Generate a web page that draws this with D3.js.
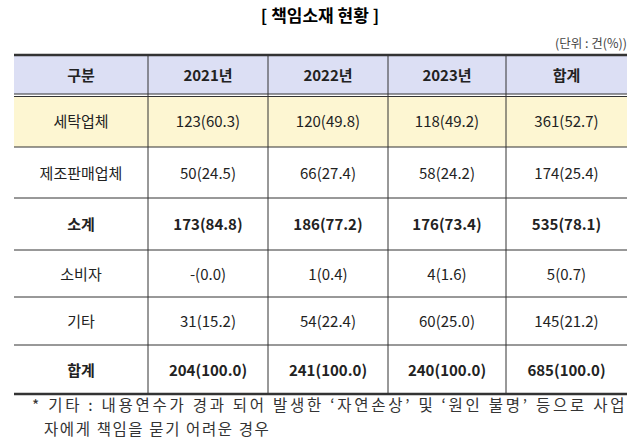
<!DOCTYPE html><html><head><meta charset="utf-8"><script src="https://cdn.jsdelivr.net/npm/d3@7"></script>
<style>body{margin:0;background:#fff}</style></head><body><script>
const headers=["구분","2021년","2022년","2023년","합계"];
const categories=["세탁업체","제조판매업체","소계","소비자","기타","합계"];
const counts=[[123,120,118,361],[50,66,58,174],[173,186,176,535],[null,1,4,5],[31,54,60,145],[204,241,240,685]];
const pcts=[[60.3,49.8,49.2,52.7],[24.5,27.4,24.2,25.4],[84.8,77.2,73.4,78.1],[0.0,0.4,1.6,0.7],[15.2,22.4,25.0,21.2],[100.0,100.0,100.0,100.0]];
const boldRows=["소계","합계"];
const colEdges=[14,148,268,388,506,627];
const rowEdges=[55,94,147,198,250,297,345,394];
const F="'Noto Sans CJK KR','Noto Sans',sans-serif";
const svg=d3.select("body").append("svg").attr("width",640).attr("height",443);
svg.append("text").attr("x",320).attr("y",22).attr("text-anchor","middle").attr("font-family",F).attr("font-weight","bold").attr("font-size",17).text("[ 책임소재 현황 ]");
svg.append("text").attr("x",627).attr("y",48).attr("text-anchor","end").attr("font-family",F).attr("font-size",12.5).attr("fill","#444").text("(단위 : 건(%))");
svg.append("rect").attr("x",14).attr("y",55).attr("width",613).attr("height",39).attr("fill","#dcdff4");
svg.append("rect").attr("x",14).attr("y",96).attr("width",613).attr("height",51).attr("fill","#fdf6d2");
const rows=[headers].concat(categories.map((c,i)=>[c].concat(counts[i].map((v,j)=>(v===null?"-":v)+"("+pcts[i][j].toFixed(1)+")"))));
rows.forEach((r,i)=>{const bold=i===0||boldRows.includes(r[0]);
 r.forEach((t,j)=>svg.append("text").attr("x",(colEdges[j]+colEdges[j+1])/2).attr("y",(rowEdges[i]+rowEdges[i+1])/2+2).attr("dominant-baseline","middle").attr("text-anchor","middle").attr("font-family",F).attr("font-size",15).attr("font-weight",bold?"bold":"normal").attr("fill","#222").text(t));});
colEdges.slice(1,-1).forEach(x=>svg.append("line").attr("x1",x).attr("x2",x).attr("y1",55).attr("y2",394).attr("stroke","#333"));
rowEdges.forEach((y,i)=>{const w=(i===0||i===rowEdges.length-1)?2.5:1;
 svg.append("line").attr("x1",14).attr("x2",627).attr("y1",y).attr("y2",y).attr("stroke","#333").attr("stroke-width",w);});
svg.append("line").attr("x1",14).attr("x2",627).attr("y1",96.5).attr("y2",96.5).attr("stroke","#333");
const notes=["* 기타 : 내용연수가 경과 되어 발생한 ‘자연손상’ 및 ‘원인 불명’ 등으로 사업","자에게 책임을 묻기 어려운 경우"];
notes.forEach((t,i)=>svg.append("text").attr("x",i?44:32).attr("y",411+i*24).attr("font-family",F).attr("font-size",15.5).attr("letter-spacing",1.6).attr("fill","#333").attr("textLength",i?null:594).text(t));
</script></body></html>
